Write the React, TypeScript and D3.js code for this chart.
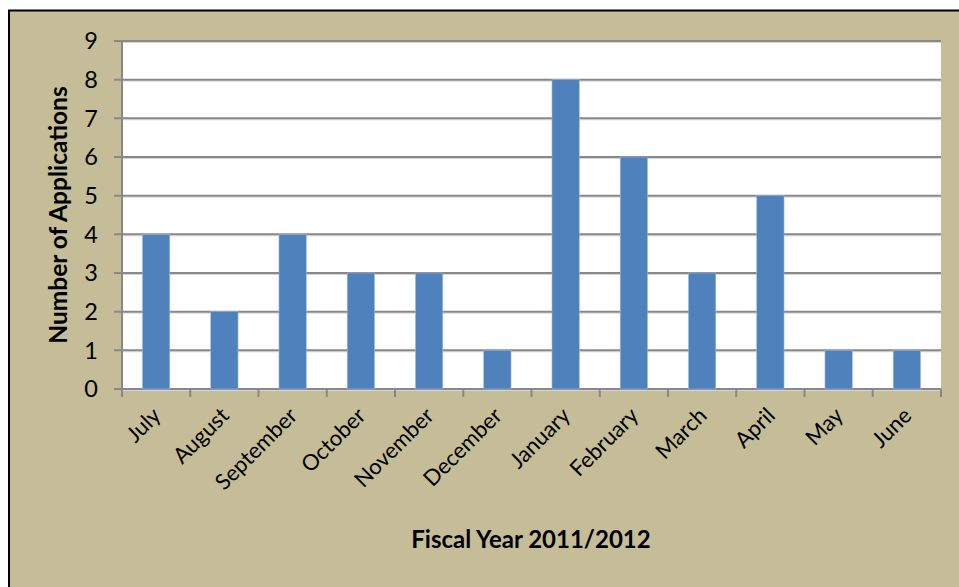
import React from "react";
import * as d3 from "d3";

const months = ["July", "August", "September", "October", "November", "December", "January", "February", "March", "April", "May", "June"];
const applications = [4, 2, 4, 3, 3, 1, 8, 6, 3, 5, 1, 1];
const yTicks = [0, 1, 2, 3, 4, 5, 6, 7, 8, 9];
const xTitle = "Fiscal Year 2011/2012";
const yTitle = "Number of Applications";

const W = 959;
const H = 587;
const plot = { left: 122, top: 41, right: 941, bottom: 389 };
const FONT = "Lato, 'Open Sans', sans-serif";

export default function App() {
  const x = d3.scaleBand<string>().domain(months).range([plot.left, plot.right]).paddingInner(0.6).paddingOuter(0.3);
  const xOuter = d3.scaleBand<string>().domain(months).range([plot.left, plot.right]);
  const y = d3.scaleLinear().domain([0, 9]).range([plot.bottom, plot.top]);

  return (
    <svg width={W} height={H} style={{ position: "absolute", left: 0, top: 0 }}>
      <rect x={9} y={10.5} width={W + 10} height={H + 10} fill="#C4BD97" stroke="#000" strokeWidth={2} />
      <rect x={plot.left} y={plot.top} width={plot.right - plot.left} height={plot.bottom - plot.top} fill="#fff" />
      {yTicks.map((t) => (
        <g key={t}>
          <line x1={plot.left} x2={plot.right} y1={y(t) + 1.5} y2={y(t) + 1.5} stroke="#D6D6D6" strokeWidth={1} />
          <line x1={114} x2={plot.right} y1={y(t)} y2={y(t)} stroke="#888" strokeWidth={2} />
          <text x={98} y={y(t)} dy="0.36em" textAnchor="end" fontFamily={FONT} fontSize={23.5} fill="#000">{t}</text>
        </g>
      ))}
      <line x1={plot.left} x2={plot.left} y1={plot.top} y2={plot.bottom + 8} stroke="#888" strokeWidth={2} />
      {months.map((m) => (
        <line key={"t" + m} x1={(xOuter(m) as number) + xOuter.bandwidth()} x2={(xOuter(m) as number) + xOuter.bandwidth()} y1={plot.bottom} y2={plot.bottom + 8} stroke="#888" strokeWidth={2} />
      ))}
      {months.map((m, i) => (
        <rect key={"b" + m} x={x(m)} y={y(applications[i])} width={x.bandwidth()} height={plot.bottom - y(applications[i])} fill="#4F81BD" stroke="#9DB9DC" strokeWidth={0.6} />
      ))}
      {months.map((m) => {
        const cx = (xOuter(m) as number) + xOuter.bandwidth() / 2 + 6;
        const cy = 417;
        return (
          <text key={"l" + m} x={cx} y={cy} textAnchor="end" transform={`rotate(-45 ${cx} ${cy})`} fontFamily={FONT} fontSize={22} fill="#000">{m}</text>
        );
      })}
      <text x={531} y={548} textAnchor="middle" fontFamily={FONT} fontWeight="bold" fontSize={24} fill="#000">{xTitle}</text>
      <text transform={`translate(67 ${(plot.top + plot.bottom) / 2}) rotate(-90)`} textAnchor="middle" fontFamily={FONT} fontWeight="bold" fontSize={24.5} fill="#000">{yTitle}</text>
    </svg>
  );
}
